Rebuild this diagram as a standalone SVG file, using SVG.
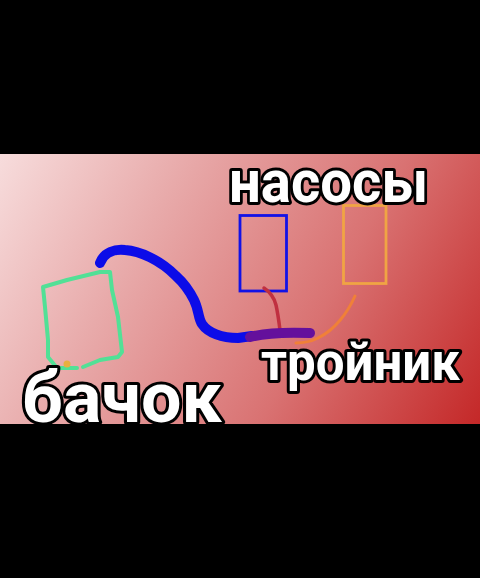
<svg xmlns="http://www.w3.org/2000/svg" width="480" height="578" viewBox="0 0 480 578">
<defs>
<linearGradient id="bg" gradientUnits="userSpaceOnUse" x1="0" y1="154" x2="480" y2="424">
<stop offset="0" stop-color="#f7dcdc"/>
<stop offset="0.3" stop-color="#e8aaaa"/>
<stop offset="0.65" stop-color="#d97272"/>
<stop offset="1" stop-color="#c42828"/>
</linearGradient>
<clipPath id="pic"><rect x="0" y="154" width="480" height="270"/></clipPath>
<style>
.lbl{font-family:Roboto,"Liberation Sans",sans-serif;font-weight:700;fill:#ffffff;stroke:#000000;stroke-width:6;stroke-linejoin:round;paint-order:stroke fill}
.pen{fill:none;stroke-linecap:round;stroke-linejoin:round}
</style>
</defs>
<rect x="0" y="0" width="480" height="578" fill="#000000"/>
<g clip-path="url(#pic)">
<rect x="0" y="154" width="480" height="270" fill="url(#bg)"/>
<g id="bachok">
<path class="pen" stroke="#52e096" stroke-width="4" d="M83,367 L100,360 L118,357 L122,352 L118,317 L112,290 L110,272 L100,272 L67,280 L43,287 L45,307 L48,340 L48,357 L57,368 L77,368"/>
<circle cx="67" cy="364" r="3.5" fill="#e8b040"/>
</g>
<g id="nasos1">
<rect x="240" y="215.5" width="46.5" height="75.5" fill="none" stroke="#1212e6" stroke-width="2.8"/>
</g>
<g id="nasos2">
<rect x="343.5" y="205.5" width="42.5" height="78" fill="none" stroke="#f0a444" stroke-width="2.8"/>
</g>
<g id="connectors">
<path class="pen" stroke="#0c0ce8" stroke-width="10" d="M100,263 C104,252 115,249 125,250 C140,251 160,260 176,276 C186,285 190,292 194,300 C199,310 198,318 202,324 C208,333 222,338 238,338 L252,336"/>
<path class="pen" stroke="#c03040" stroke-width="3.5" d="M264,288 C270,292 274,297 276,305 C278,314 279,322 280,330"/>
<path class="pen" stroke="#f08038" stroke-width="3" d="M355,296 C348,312 335,330 318,338 C310,342 302,343 296,343"/>
<path class="pen" stroke="#64109c" stroke-width="10" d="M250,337 C265,333 285,332 310,333"/>
</g>
<g id="lbl-nasosy"><text class="lbl" x="229" y="201.5" font-size="60" textLength="199" lengthAdjust="spacingAndGlyphs">насосы</text></g>
<g id="lbl-troynik"><text class="lbl" x="261" y="380" font-size="51" textLength="199" lengthAdjust="spacingAndGlyphs">тройник</text></g>
<g id="lbl-bachok"><text class="lbl" x="22" y="421.5" font-size="70" textLength="200" lengthAdjust="spacingAndGlyphs">бачок</text></g>
</g>
</svg>
